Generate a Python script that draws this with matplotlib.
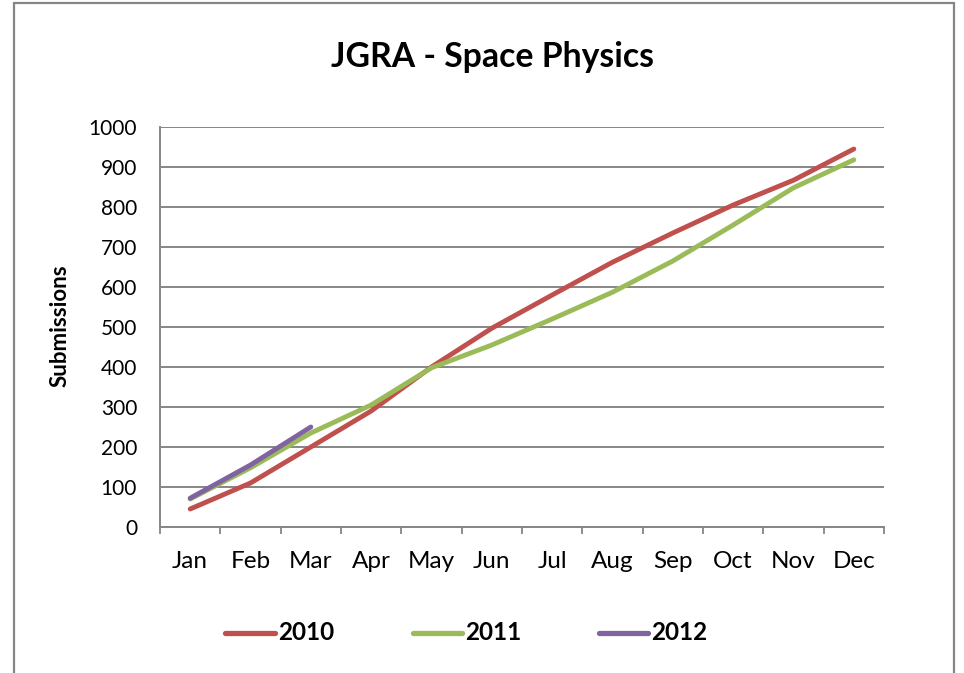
import matplotlib
matplotlib.use("Agg")
import matplotlib.pyplot as plt
from matplotlib.patches import Rectangle
from matplotlib.lines import Line2D

months = ["Jan", "Feb", "Mar", "Apr", "May", "Jun", "Jul", "Aug", "Sep", "Oct", "Nov", "Dec"]
s2010 = [45, 110, 200, 290, 400, 497, 580, 662, 735, 805, 867, 945]
s2011 = [70, 148, 235, 305, 398, 455, 520, 587, 665, 755, 848, 918]
s2012 = [72, 155, 250]
years = ["2010", "2011", "2012"]
colors = ["#C0504D", "#9BBB59", "#8064A2"]

plt.rcParams['font.family'] = ['Lato', 'DejaVu Sans']

W, H = 964, 673
fig = plt.figure(figsize=(W / 100, H / 100), dpi=100)
fig.patches.append(Rectangle((14 / W, -0.05), (954 - 14) / W, 1.05 - 3 / H, transform=fig.transFigure,
                             fill=False, edgecolor="#868686", linewidth=1.6))

ax = fig.add_axes([160 / W, 1 - 527 / H, (884 - 160) / W, (527 - 127) / H])
x = list(range(len(months)))
for ys, c, lab in zip([s2010, s2011, s2012], colors, years):
    ax.plot(x[:len(ys)], ys, color=c, linewidth=3.5, solid_capstyle="round", label=lab)

ax.set_xlim(-0.5, 11.5)
ax.set_ylim(0, 1000)
ax.set_yticks(range(0, 1001, 100))
ax.set_xticks(x)
ax.set_xticklabels(months)
ax.set_xticks([i - 0.5 for i in range(13)], minor=True)
ax.tick_params(axis="x", which="major", length=0, pad=17, labelsize=17.5)
ax.tick_params(axis="x", which="minor", length=5, width=1.3, color="#868686")
ax.tick_params(axis="y", length=0, pad=16.5, labelsize=15)
ax.grid(axis="y", color="#868686", linewidth=1.4)
ax.set_axisbelow(True)
for side in ["top", "right"]:
    ax.spines[side].set_visible(False)
for side in ["left", "bottom"]:
    ax.spines[side].set_color("#868686")
    ax.spines[side].set_linewidth(1.4)

fig.text(60 / W, 1 - 326 / H, "Submissions", ha="center", va="center", rotation=90,
         fontsize=16, fontweight="bold")

fig.text(493 / W, 1 - 57 / H, "JGRA - Space Physics", ha="center", va="center",
         fontsize=24.3, fontweight="bold")

# legend
leg_y = 1 - 633 / H
handle_x = [(225, 275), (413, 462), (599, 648)]
for (x0, x1), c, lab in zip(handle_x, colors, years):
    fig.add_artist(Line2D([x0 / W, x1 / W], [leg_y, leg_y], transform=fig.transFigure,
                          color=c, linewidth=3.8, solid_capstyle="round"))
    fig.text((x1 + 3) / W, leg_y, lab, ha="left", va="center", fontsize=17.5, fontweight="bold")

fig.savefig("out.png", dpi=100)
